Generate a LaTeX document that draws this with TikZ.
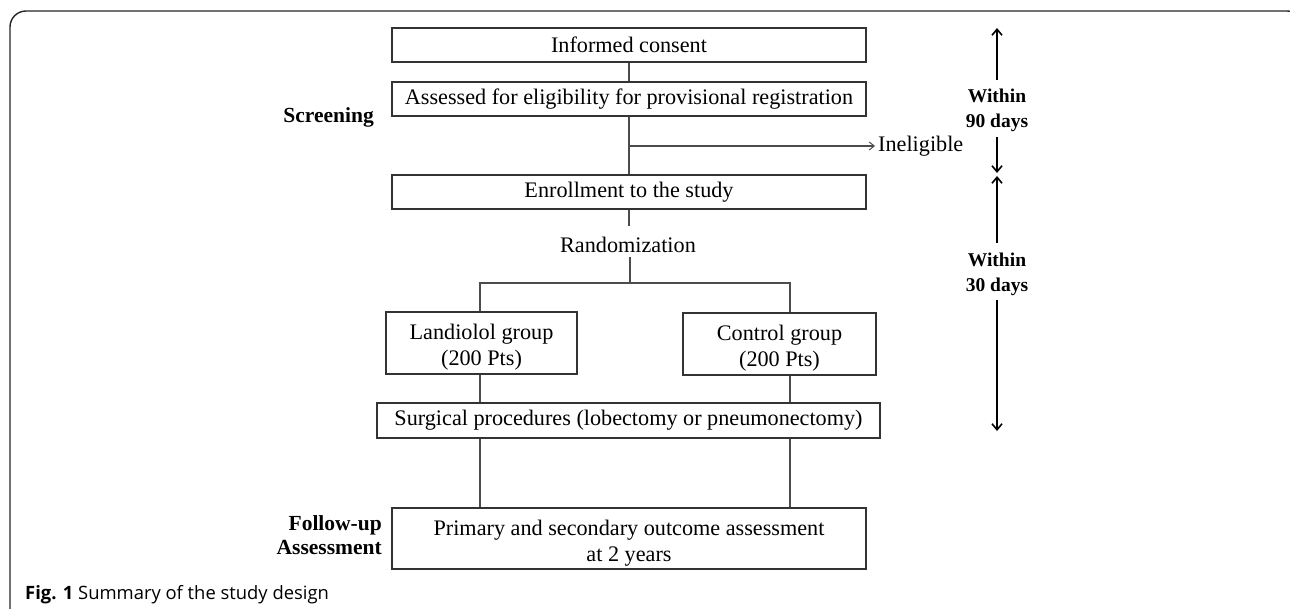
\documentclass[tikz,border=0pt]{standalone}
\usepackage{fontspec}
\setmainfont{Liberation Serif}
\newfontfamily\capfont{Open Sans}
\usetikzlibrary{arrows.meta}
\newcommand{\toppad}{\rule{0pt}{24pt}}
\tikzset{
  flowbox/.style={draw=black!80, line width=1.1pt, inner sep=0pt, align=center,
     font=\fontsize{22.2}{26}\selectfont},
  plain/.style={inner sep=0pt, align=center, font=\fontsize{22.2}{26}\selectfont},
  phase/.style={inner sep=0pt, align=right, font=\fontsize{21.5}{24}\selectfont\bfseries},
  spanlabel/.style={inner sep=0pt, align=center, font=\fontsize{19.5}{25}\selectfont\bfseries},
  link/.style={draw=black!70, line width=1.1pt},
  timearrow/.style={draw=black, line width=1.8pt, -{Straight Barb[length=6pt,width=10pt,line width=1.6pt]}},
}
\begin{document}
\begin{tikzpicture}[x=1pt,y=-1pt]
\useasboundingbox (0,0) rectangle (1290,609);
\clip (0,0) rectangle (1290,609);
\fill[white] (0,0) rectangle (1290,609);
% frame
\draw[black!85, line width=1.4pt, rounded corners=16pt] (10,11) rectangle (1303,700);

% boxes
\node[flowbox, minimum width=474pt, minimum height=34pt] (consent) at (629,45) {Informed consent};
\node[flowbox, minimum width=474pt, minimum height=34pt] (assess) at (629,99) {Assessed for eligibility for provisional registration};
\node[flowbox, minimum width=474pt, minimum height=34pt] (enroll) at (629,192) {Enrollment to the study};
\node[plain] (rand) at (628,245) {Randomization};
\node[flowbox, minimum width=191pt, minimum height=62pt] (land) at (481.5,343) {\toppad Landiolol group\\(200 Pts)};
\node[flowbox, minimum width=193pt, minimum height=62pt] (ctrl) at (779.5,344) {\toppad Control group\\(200 Pts)};
\node[flowbox, minimum width=503pt, minimum height=35pt] (surg) at (628.5,420.5) {Surgical procedures (lobectomy or pneumonectomy)};
\node[flowbox, minimum width=474pt, minimum height=61pt] (outc) at (629,538.5) {\toppad Primary and secondary outcome assessment\\at 2 years};
\node[plain, anchor=west] (inel) at (878,146) {Ineligible};

% phase labels
\node[phase, anchor=east] (scr) at (374,117) {Screening};
\node[phase, anchor=east] (fup) at (382,535) {Follow-up\\Assessment};

% time spans
\node[spanlabel] (w90) at (997,110) {Within\\90 days};
\node[spanlabel] (w30) at (997,274.5) {Within\\30 days};
\coordinate (t0) at (997,28);
\coordinate (a0) at (997,80);
\coordinate (a1) at (997,137);
\coordinate (t1) at (997,173);
\coordinate (t2) at (997,176);
\coordinate (a2) at (997,243);
\coordinate (a3) at (997,300);
\coordinate (t3) at (997,431);
\draw[timearrow] (a0) -- (t0);
\draw[timearrow] (a1) -- (t1);
\draw[timearrow] (a2) -- (t2);
\draw[timearrow] (a3) -- (t3);

% connectors
\draw[link] (consent) -- (assess);
\draw[link] (assess) -- (enroll);
\coordinate (br) at (629,146);
\coordinate (brend) at (875,146);
\draw[link, -{Straight Barb[length=5pt,width=8pt,line width=1pt]}] (br) -- (brend);
\coordinate (rtop) at (629,226);
\draw[link] (enroll.south) -- (rtop);
\coordinate (rbot) at (630,257);
\coordinate (split) at (630,283);
\draw[link] (rbot) -- (split);
\coordinate (sl) at (480,283);
\coordinate (sr) at (790,283);
\draw[link] (land.north -| sl) |- (sr) -- (ctrl.north -| sr);
\draw[link] (land.south -| sl) -- (surg.north -| sl);
\draw[link] (ctrl.south -| sr) -- (surg.north -| sr);
\draw[link] (surg.south -| sl) -- (outc.north -| sl);
\draw[link] (surg.south -| sr) -- (outc.north -| sr);

% caption
\node[anchor=west, inner sep=0pt, font=\capfont\fontsize{18.4}{22}\selectfont] (cap) at (25,595) {\textbf{Fig. 1} Summary of the study design};
\end{tikzpicture}
\end{document}
